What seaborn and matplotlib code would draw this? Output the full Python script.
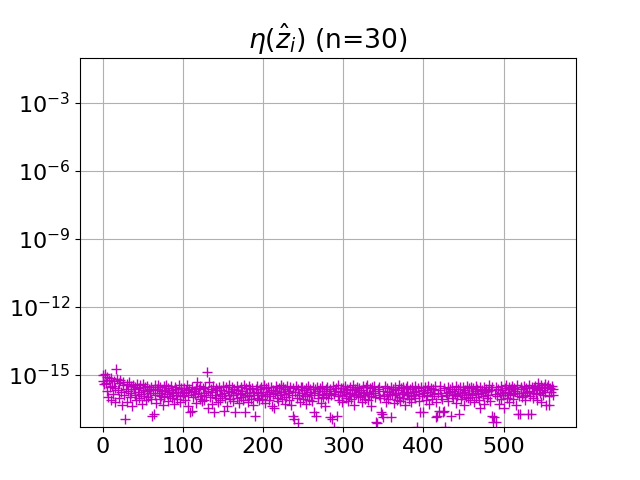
import numpy as np
import seaborn as sns
import matplotlib.pyplot as plt

# === data: log10 of eta(z_i), one value per index ===
eta_log10 = [
    -15.02, -15.28, -15.41, -14.95, -15.33, -15.71, -15.10, -15.96, -15.22, -15.52, -16.08, -15.14, -15.47, -15.83, -15.26, -16.21, -15.58, -14.72, -15.19, -15.66,
    -15.37, -16.02, -15.21, -15.74, -16.31, -15.45, -15.29, -15.88, -16.92, -15.61, -15.40, -16.17, -15.69, -15.31, -15.97, -15.49, -15.78, -16.38, -15.43, -15.63,
    -15.86, -15.51, -16.12, -15.39, -15.77, -15.57, -16.01, -15.44, -15.82, -16.27, -15.66, -15.38, -15.91, -15.54, -16.09, -15.72, -15.47, -15.95, -15.60, -15.79,
    -15.55, -16.04, -16.82, -15.68, -16.70, -15.46, -15.89, -16.22, -15.62, -15.42, -15.81, -16.06, -15.53, -15.92, -15.71, -16.34, -15.50, -15.99, -15.65, -15.44,
    -15.84, -15.58, -16.14, -15.73, -15.93, -15.48, -16.03, -15.67, -15.80, -16.26, -15.52, -15.90, -15.61, -16.07, -15.76, -15.45, -15.87, -16.19, -15.59, -15.74,
    -15.94, -15.56, -15.79, -16.11, -15.64, -15.43, -15.88, -16.36, -15.60, -16.62, -15.75, -16.58, -15.51, -15.98, -15.70, -15.85, -16.24, -15.57, -15.30, -15.81,
    -15.63, -16.05, -15.49, -15.91, -16.16, -15.59, -15.78, -16.09, -15.53, -15.86, -14.88, -16.45, -15.72, -15.32, -15.96, -15.61, -16.29, -15.77, -15.50, -16.65,
    -15.89, -15.57, -16.03, -15.68, -16.20, -15.52, -15.83, -16.10, -15.64, -15.93, -15.47, -16.60, -15.79, -16.00, -15.55, -16.35, -15.71, -15.90, -15.46, -16.06,
    -15.76, -15.54, -16.13, -15.88, -15.61, -16.65, -15.80, -15.49, -16.01, -15.66, -16.25, -15.84, -15.53, -15.95, -15.70, -16.08, -15.45, -16.62, -15.87, -15.59,
    -15.78, -16.18, -15.50, -15.92, -15.63, -16.04, -15.56, -16.31, -15.75, -15.86, -16.80, -15.60, -15.48, -16.00, -15.81, -16.12, -15.62, -15.89, -15.52, -16.07,
    -15.73, -15.46, -15.94, -16.23, -15.58, -15.82, -15.51, -16.10, -15.77, -15.91, -15.55, -16.38, -15.65, -15.85, -16.45, -15.79, -15.49, -16.02, -15.69, -16.15,
    -15.57, -15.88, -15.44, -15.76, -16.06, -15.54, -15.83, -16.27, -15.62, -15.95, -15.50, -15.80, -16.11, -15.71, -15.53, -16.33, -15.86, -15.59, -16.80, -16.95,
    -15.74, -15.48, -16.01, -17.10, -15.60, -15.89, -16.19, -15.55, -15.80, -15.51, -16.05, -15.67, -15.92, -16.28, -15.58, -15.84, -15.47, -16.09, -15.73, -15.62,
    -15.90, -16.14, -15.54, -15.79, -16.65, -15.63, -16.80, -15.52, -15.87, -16.03, -15.69, -15.56, -16.22, -15.82, -15.49, -15.96, -15.72, -16.37, -15.60, -15.86,
    -15.55, -16.00, -15.78, -16.85, -15.61, -15.90, -16.95, -15.50, -15.83, -17.30, -15.70, -15.57, -16.82, -15.93, -15.46, -16.08, -15.77, -15.59, -16.20, -15.88,
    -15.56, -15.75, -15.48, -16.02, -15.84, -15.60, -16.16, -15.91, -15.53, -15.79, -16.07, -15.68, -15.45, -15.89, -16.30, -15.62, -15.85, -15.51, -15.99, -15.74,
    -15.57, -15.93, -15.66, -16.21, -15.49, -15.81, -15.87, -16.04, -15.54, -15.76, -15.44, -16.11, -15.83, -15.58, -15.92, -16.36, -15.55, -15.80, -15.50, -15.97,
    -15.72, -17.05, -17.10, -15.61, -15.88, -15.53, -16.01, -16.62, -16.70, -16.85, -15.69, -15.94, -15.47, -16.18, -15.82, -15.56, -16.06, -15.75, -15.86, -16.85,
    -15.51, -15.83, -15.63, -16.24, -15.90, -15.54, -15.78, -16.08, -15.67, -15.46, -15.95, -16.13, -15.59, -15.85, -15.52, -16.00, -15.74, -16.33, -15.57, -15.88,
    -15.48, -15.80, -16.05, -15.62, -15.93, -16.19, -15.55, -15.76, -15.87, -15.47, -16.02, -15.70, -17.30, -15.58, -15.84, -16.14, -16.65, -15.52, -15.91, -15.64,
    -16.65, -15.81, -15.54, -16.09, -15.68, -15.89, -15.49, -16.28, -15.75, -15.57, -15.94, -16.04, -15.61, -15.83, -15.50, -16.17, -16.85, -16.82, -15.79, -16.60,
    -15.66, -15.47, -15.92, -16.07, -16.62, -16.60, -15.56, -17.30, -15.80, -15.90, -15.52, -16.15, -15.73, -15.60, -16.80, -15.87, -15.54, -16.01, -15.69, -15.84,
    -15.50, -16.23, -15.91, -15.62, -16.72, -15.78, -15.55, -16.06, -15.86, -15.51, -15.74, -16.32, -15.64, -15.95, -15.47, -16.03, -15.82, -15.59, -16.12, -15.53,
    -15.79, -15.90, -15.56, -16.20, -15.72, -15.48, -15.99, -15.63, -15.85, -16.08, -15.54, -16.45, -15.81, -15.67, -15.93, -16.26, -15.52, -15.77, -15.60, -16.02,
    -15.71, -15.88, -15.46, -16.16, -15.65, -15.55, -16.80, -17.05, -16.85, -15.83, -17.05, -15.53, -15.92, -15.61, -16.29, -15.78, -15.49, -16.04, -15.68, -15.87,
    -16.45, -15.56, -15.76, -15.44, -16.00, -15.80, -15.53, -16.18, -15.89, -15.60, -15.48, -16.07, -15.84, -15.57, -15.70, -16.34, -15.79, -15.46, -16.70, -15.92,
    -16.72, -15.62, -15.54, -15.99, -15.81, -15.49, -15.88, -16.11, -15.56, -15.75, -16.70, -15.45, -15.69, -15.94, -16.70, -15.52, -15.80, -16.03, -15.58, -15.47,
    -15.82, -15.63, -16.08, -15.35, -15.57, -15.79, -15.46, -16.19, -15.66, -15.89, -15.51, -15.40, -15.73, -16.32, -15.55, -15.44, -15.91, -16.30, -15.58, -15.77,
    -15.48, -15.86, -15.62,
]
n_basis = 30

idx = np.arange(len(eta_log10))
eta = 10.0 ** np.array(eta_log10)

fig, ax = plt.subplots(figsize=(6.4, 4.8), dpi=100)
sns.scatterplot(x=idx, y=eta, ax=ax, marker='+', color='m', s=56, linewidth=1.0, legend=False)

ax.set_yscale('log')
ax.set_ylim(5e-18, 1e-1)
ax.grid(True)
ax.set_axisbelow(True)
ax.tick_params(axis='both', labelsize=16)
ax.set_title(rf'$\eta(\hat{{z}}_i)$ (n={n_basis})', fontsize=19.2)

plt.savefig('out.png', dpi=100)
